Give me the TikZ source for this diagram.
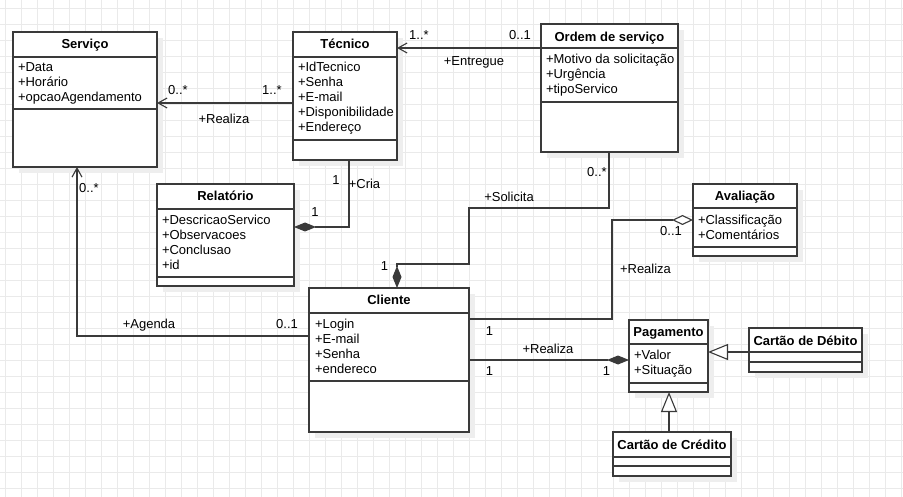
\documentclass[tikz,border=0pt]{standalone}
\usepackage{fontspec}
\setmainfont{Liberation Sans}
\usetikzlibrary{arrows.meta,shadows}

\definecolor{gridc}{RGB}{234,234,234}
\definecolor{ln}{RGB}{58,58,58}
\definecolor{shade}{RGB}{238,238,238}

\begin{document}
\begin{tikzpicture}[x=1pt,y=-1pt,
  every node/.style={font=\fontsize{13}{15}\selectfont, text=black, inner sep=0pt, outer sep=0pt},
  classbox/.style={draw=ln, line width=1.2pt, fill=white, anchor=north west,
    drop shadow={shadow xshift=6pt, shadow yshift=-6pt, fill=shade, opacity=1}},
  divider/.style={draw=ln, line width=1.2pt},
  title/.style={font=\fontsize{13}{15}\selectfont\bfseries, anchor=base},
  attr/.style={anchor=base west},
  lbl/.style={anchor=base},
  conn/.style={draw=ln, line width=1.1pt},
  navarrow/.style={conn, -{Straight Barb[length=9pt,width=10pt]}},
  compose/.style={conn, -{Diamond[length=22pt,width=9pt,fill=ln]}},
  aggregate/.style={conn, -{Diamond[open,length=21pt,width=10pt,fill=white]}},
  inherit/.style={conn, -{Triangle[open,length=20pt,width=16pt,fill=white]}},
]
\useasboundingbox (0,0) rectangle (903,497);
\fill[white] (0,0) rectangle (903,497);

% background grid
\foreach \gx in {0,...,56} \draw[gridc, line width=0.9pt] ({5.3+16*\gx},0) -- ({5.3+16*\gx},497);
\foreach \gy in {0,...,30} \draw[gridc, line width=0.9pt] (0,{8.5+16*\gy}) -- (903,{8.5+16*\gy});

% ---------- classes ----------
% Servico
\node[classbox, minimum width=144pt, minimum height=135pt] (srv) at (13,32) {};
\draw[divider] (13,57) -- (157,57);
\draw[divider] (13,109) -- (157,109);
\node[title] (srv-t) at (85,49) {Serviço};
\node[attr] (srv-a1) at (18,72) {+Data};
\node[attr] (srv-a2) at (18,87) {+Horário};
\node[attr] (srv-a3) at (18,102) {+opcaoAgendamento};

% Tecnico
\node[classbox, minimum width=104pt, minimum height=128pt] (tec) at (293,32) {};
\draw[divider] (293,57) -- (397,57);
\draw[divider] (293,140) -- (397,140);
\node[title] (tec-t) at (345,49) {Técnico};
\node[attr] (tec-a1) at (298,72) {+IdTecnico};
\node[attr] (tec-a2) at (298,87) {+Senha};
\node[attr] (tec-a3) at (298,102) {+E-mail};
\node[attr] (tec-a4) at (298,117) {+Disponibilidade};
\node[attr] (tec-a5) at (298,132) {+Endereço};

% Ordem de servico
\node[classbox, minimum width=137pt, minimum height=128pt] (ord) at (541,24) {};
\draw[divider] (541,48) -- (678,48);
\draw[divider] (541,102) -- (678,102);
\node[title] (ord-t) at (609.5,41.5) {Ordem de serviço};
\node[attr] (ord-a1) at (546,63.5) {+Motivo da solicitação};
\node[attr] (ord-a2) at (546,78.5) {+Urgência};
\node[attr] (ord-a3) at (546,93.5) {+tipoServico};

% Relatorio
\node[classbox, minimum width=137pt, minimum height=102pt] (rel) at (157,184) {};
\draw[divider] (157,209) -- (294,209);
\draw[divider] (157,277) -- (294,277);
\node[title] (rel-t) at (225.5,200.5) {Relatório};
\node[attr] (rel-a1) at (162,224.5) {+DescricaoServico};
\node[attr] (rel-a2) at (162,239.5) {+Observacoes};
\node[attr] (rel-a3) at (162,254.5) {+Conclusao};
\node[attr] (rel-a4) at (162,269.5) {+id};

% Avaliacao
\node[classbox, minimum width=104pt, minimum height=72pt] (ava) at (693,184) {};
\draw[divider] (693,208) -- (797,208);
\draw[divider] (693,247) -- (797,247);
\node[title] (ava-t) at (745,200.5) {Avaliação};
\node[attr] (ava-a1) at (698,224.5) {+Classificação};
\node[attr] (ava-a2) at (698,239.5) {+Comentários};

% Cliente
\node[classbox, minimum width=160pt, minimum height=144pt] (cli) at (309,288) {};
\draw[divider] (309,313) -- (469,313);
\draw[divider] (309,381) -- (469,381);
\node[title] (cli-t) at (389,305) {Cliente};
\node[attr] (cli-a1) at (315,328) {+Login};
\node[attr] (cli-a2) at (315,343) {+E-mail};
\node[attr] (cli-a3) at (315,358) {+Senha};
\node[attr] (cli-a4) at (315,373) {+endereco};

% Pagamento
\node[classbox, minimum width=79pt, minimum height=72pt] (pag) at (629,320) {};
\draw[divider] (629,344) -- (708,344);
\draw[divider] (629,383) -- (708,383);
\node[title] (pag-t) at (668.5,337) {Pagamento};
\node[attr] (pag-a1) at (634,359.5) {+Valor};
\node[attr] (pag-a2) at (634,374.5) {+Situação};

% Cartao de Debito
\node[classbox, minimum width=113pt, minimum height=44pt] (deb) at (749,328) {};
\draw[divider] (749,352) -- (862,352);
\draw[divider] (749,362) -- (862,362);
\node[title] (deb-t) at (805.5,345) {Cartão de Débito};

% Cartao de Credito
\node[classbox, minimum width=118pt, minimum height=44pt] (cre) at (613,432) {};
\draw[divider] (613,457) -- (731,457);
\draw[divider] (613,466) -- (731,466);
\node[title] (cre-t) at (672,449) {Cartão de Crédito};

% ---------- connection points ----------
\coordinate (srv-e) at (157,103);
\coordinate (srv-s) at (77,167);
\coordinate (tec-w) at (293,103);
\coordinate (tec-e) at (397,48);
\coordinate (tec-s) at (349,160);
\coordinate (ord-w) at (541,48);
\coordinate (ord-s) at (609,152);
\coordinate (rel-e) at (294,227);
\coordinate (ava-w) at (693,220);
\coordinate (cli-n) at (397,288);
\coordinate (cli-e1) at (469,319);
\coordinate (cli-e2) at (469,360);
\coordinate (cli-w) at (309,336);
\coordinate (pag-w) at (629,360);
\coordinate (pag-e) at (708,352);
\coordinate (pag-s) at (669,392);
\coordinate (deb-w) at (749,352);
\coordinate (cre-n) at (669,432);

% ---------- relations ----------
\draw[navarrow] (tec-w) -- (srv-e);
\node[lbl] (l-srv-m) at (178,94.5) {0..*};
\node[lbl] (l-tec-m) at (272,94.5) {1..*};
\node[lbl] (l-realiza1) at (224,123.5) {+Realiza};

\draw[navarrow] (ord-w) -- (tec-e);
\node[lbl] (l-tec-m2) at (419,39.5) {1..*};
\node[lbl] (l-ord-m) at (520,39.5) {0..1};
\node[lbl] (l-entregue) at (474,65.5) {+Entregue};

\draw[compose] (ord-s) -- (609,208) -- (469,208) -- (469,264) -- (397,264) -- (cli-n);
\node[lbl] (l-ord-m2) at (597,177) {0..*};
\node[lbl] (l-solicita) at (509,202) {+Solicita};
\node[lbl] (l-cli-m) at (384.5,270.5) {1};

\draw[compose] (tec-s) -- (349,227) -- (rel-e);
\node[lbl] (l-tec-m3) at (336,185) {1};
\node[lbl] (l-cria) at (364.5,189) {+Cria};
\node[lbl] (l-rel-m) at (315,217) {1};

\draw[aggregate] (cli-e1) -- (612,319) -- (612,220) -- (ava-w);
\node[lbl] (l-ava-m) at (671,235.5) {0..1};
\node[lbl] (l-realiza2) at (645.5,273.5) {+Realiza};
\node[lbl] (l-cli-m2) at (489.5,336) {1};

\draw[compose] (cli-e2) -- (pag-w);
\node[lbl] (l-realiza3) at (548,353) {+Realiza};
\node[lbl] (l-cli-m3) at (489.5,375) {1};
\node[lbl] (l-pag-m) at (606.5,375) {1};

\draw[navarrow] (cli-w) -- (77,336) -- (srv-s);
\node[lbl] (l-srv-m2) at (89,193) {0..*};
\node[lbl] (l-agenda) at (149,329) {+Agenda};
\node[lbl] (l-cli-m4) at (287,329) {0..1};

\draw[inherit] (deb-w) -- (pag-e);
\draw[inherit] (cre-n) -- (pag-s);
\end{tikzpicture}
\end{document}
